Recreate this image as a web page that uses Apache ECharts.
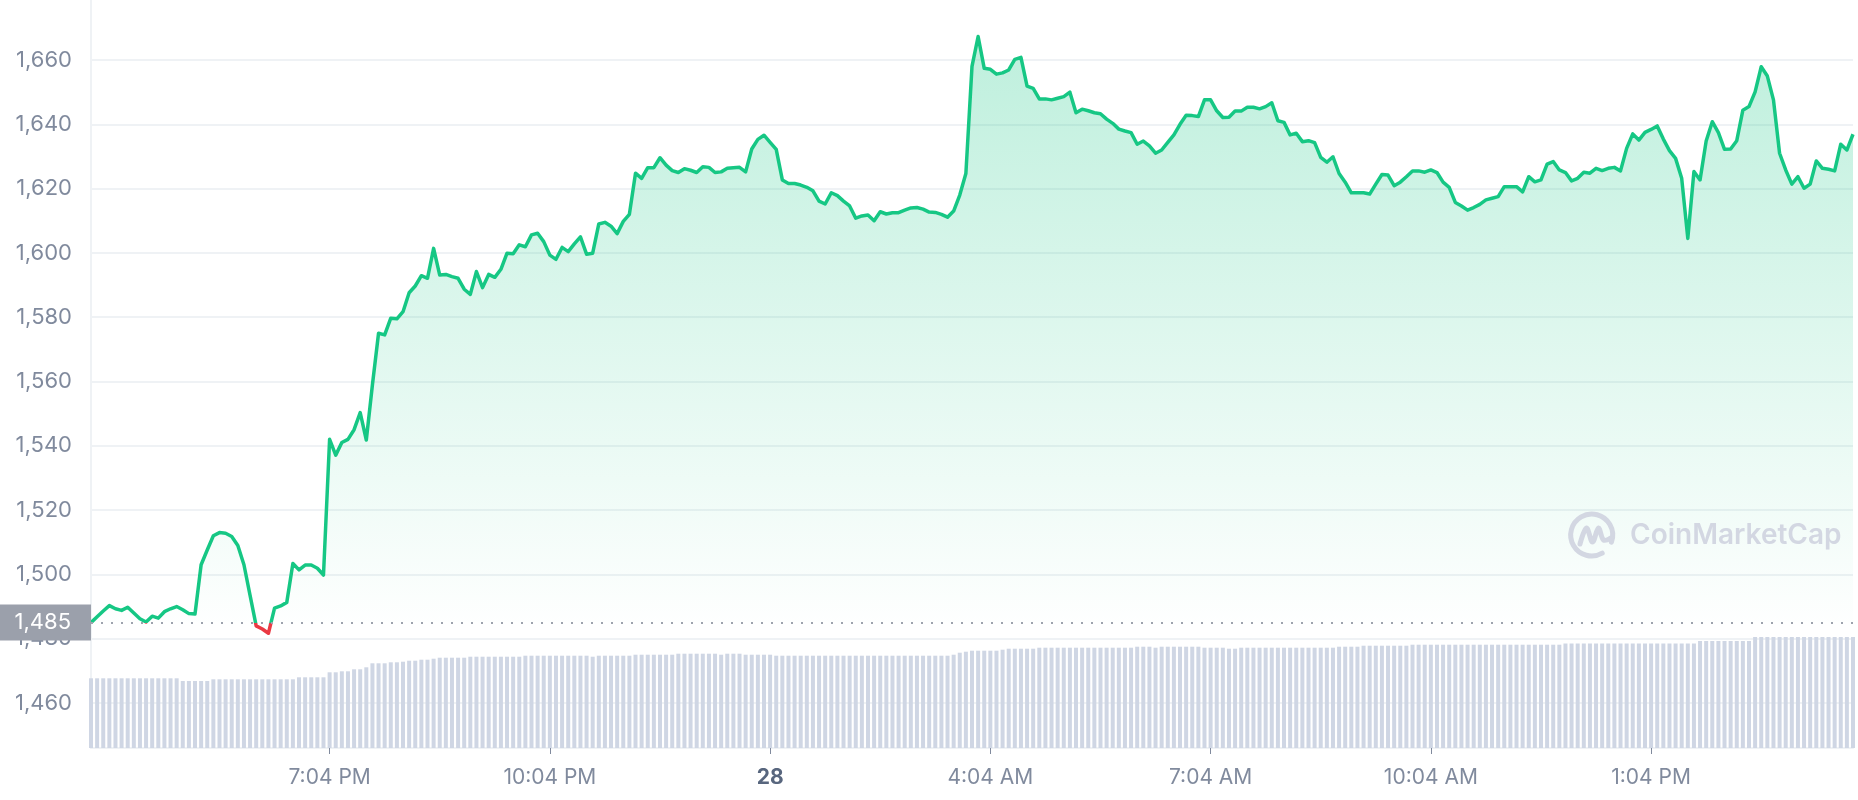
<!DOCTYPE html>
<html>
<head>
<meta charset="utf-8">
<script src="https://cdn.jsdelivr.net/npm/echarts@6/dist/echarts.min.js"></script>
<style>
html,body{margin:0;padding:0;background:#ffffff;}
#chart{width:1858px;height:800px;}
</style>
</head>
<body>
<div id="chart"></div>
<script>
// ---------- data ----------
const openPrice = 1485;

// 5-minute categories from 27 15:49 to 28 15:49
const categories = [];
(function () {
  let m = 15 * 60 + 49;
  for (let i = 0; i < 289; i++) {
    const d = m >= 1440 ? 28 : 27;
    const t = m % 1440;
    categories.push(d + ' ' + String(Math.floor(t / 60)).padStart(2, '0') + ':' + String(t % 60).padStart(2, '0'));
    m += 5;
  }
})();

const tickLabels = {
  '27 19:04': '7:04 PM',
  '27 22:04': '10:04 PM',
  '28 01:04': '28',
  '28 04:04': '4:04 AM',
  '28 07:04': '7:04 AM',
  '28 10:04': '10:04 AM',
  '28 13:04': '1:04 PM'
};
const boldTick = '28 01:04';

const yTicks = [1460, 1480, 1500, 1520, 1540, 1560, 1580, 1600, 1620, 1640, 1660];

const prices = [
  1485, 1486.8, 1488.6, 1490.3, 1489.3, 1488.8, 1489.8, 1488, 1486.2, 1485.2,
  1487, 1486.4, 1488.4, 1489.3, 1490, 1489, 1487.8, 1487.7, 1503, 1507.6,
  1512, 1513, 1512.8, 1511.8, 1509, 1503, 1493.5, 1484, 1483, 1481.7,
  1489.5, 1490.2, 1491.3, 1503.4, 1501.4, 1502.9, 1502.9, 1501.9, 1499.8, 1542,
  1537.1, 1541, 1542, 1545, 1550.3, 1541.8, 1559, 1575, 1574.5, 1579.7,
  1579.5, 1581.7, 1587.6, 1589.7, 1592.9, 1592.1, 1601.4, 1593.1, 1593.3, 1592.6,
  1592.1, 1588.7, 1587.1, 1594.2, 1589.2, 1593.3, 1592.4, 1594.9, 1599.9, 1599.7,
  1602.5, 1601.9, 1605.6, 1606.1, 1603.5, 1599.3, 1598, 1601.7, 1600.4, 1602.8,
  1605, 1599.6, 1599.9, 1609, 1609.5, 1608.3, 1606, 1609.8, 1612, 1624.8,
  1623.2, 1626.5, 1626.5, 1629.6, 1627.3, 1625.6, 1625, 1626.2, 1625.7, 1625,
  1626.8, 1626.6, 1625, 1625.2, 1626.3, 1626.5, 1626.6, 1625.2, 1632.3, 1635.3,
  1636.6, 1634.4, 1632.2, 1622.7, 1621.6, 1621.6, 1621.1, 1620.4, 1619.3, 1616.1,
  1615.2, 1618.7, 1617.8, 1616.1, 1614.6, 1610.8, 1611.5, 1611.8, 1610, 1612.8,
  1612.1, 1612.5, 1612.5, 1613.3, 1614, 1614.1, 1613.6, 1612.7, 1612.6, 1612,
  1611.1, 1613, 1618, 1624.7, 1658, 1667.3, 1657.4, 1657.1, 1655.6, 1656,
  1656.9, 1660.2, 1660.8, 1651.9, 1651.2, 1647.9, 1647.9, 1647.6, 1648.1, 1648.6,
  1650, 1643.6, 1644.7, 1644.2, 1643.6, 1643.3, 1641.6, 1640.3, 1638.5, 1637.9,
  1637.4, 1633.8, 1634.8, 1633.3, 1631, 1632, 1634.4, 1636.7, 1640, 1642.8,
  1642.7, 1642.4, 1647.6, 1647.6, 1644.2, 1642.1, 1642.2, 1644.1, 1644.1, 1645.3,
  1645.3, 1644.8, 1645.5, 1646.7, 1641.1, 1640.6, 1636.7, 1637.2, 1634.6, 1634.9,
  1634.3, 1629.7, 1628.2, 1629.9, 1624.7, 1622, 1618.7, 1618.7, 1618.7, 1618.3,
  1621.4, 1624.4, 1624.2, 1620.9, 1622, 1623.7, 1625.5, 1625.5, 1625.1, 1625.8,
  1625, 1622, 1620.4, 1615.7, 1614.6, 1613.3, 1614.1, 1615.1, 1616.5, 1617,
  1617.5, 1620.6, 1620.6, 1620.6, 1619, 1623.7, 1622.1, 1622.7, 1627.6, 1628.4,
  1625.8, 1625, 1622.4, 1623.2, 1625.1, 1624.8, 1626.3, 1625.6, 1626.3, 1626.6,
  1625.5, 1632.5, 1637, 1635.1, 1637.5, 1638.4, 1639.5, 1635.4, 1631.8, 1629.4,
  1623.2, 1604.5, 1625.3, 1622.7, 1634.8, 1640.8, 1637.4, 1632.2, 1632.3, 1634.9,
  1644.4, 1645.5, 1650.1, 1657.9, 1655, 1647.6, 1631, 1625.8, 1621.4, 1623.7,
  1620.1, 1621.4, 1628.6, 1626.3, 1626, 1625.5, 1633.8, 1632, 1636.9
];

const volumes = [
  6.97, 6.97, 6.97, 6.97, 6.97, 6.97, 6.97, 6.97, 6.97, 6.97,
  6.97, 6.97, 6.97, 6.97, 6.97, 6.70, 6.70, 6.70, 6.70, 6.70,
  6.87, 6.87, 6.87, 6.87, 6.87, 6.87, 6.87, 6.87, 6.87, 6.87,
  6.87, 6.87, 6.87, 6.87, 7.07, 7.07, 7.07, 7.07, 7.07, 7.57,
  7.57, 7.67, 7.67, 7.87, 7.87, 8.07, 8.47, 8.47, 8.47, 8.57,
  8.57, 8.63, 8.73, 8.73, 8.83, 8.83, 8.93, 9.03, 9.03, 9.03,
  9.03, 9.03, 9.13, 9.13, 9.13, 9.13, 9.13, 9.13, 9.13, 9.13,
  9.13, 9.23, 9.23, 9.23, 9.23, 9.23, 9.23, 9.23, 9.23, 9.23,
  9.23, 9.23, 9.13, 9.23, 9.23, 9.23, 9.23, 9.23, 9.23, 9.33,
  9.33, 9.33, 9.33, 9.33, 9.33, 9.33, 9.43, 9.43, 9.43, 9.43,
  9.43, 9.43, 9.43, 9.33, 9.43, 9.43, 9.43, 9.33, 9.33, 9.33,
  9.33, 9.33, 9.23, 9.23, 9.23, 9.23, 9.23, 9.23, 9.23, 9.23,
  9.23, 9.23, 9.23, 9.23, 9.23, 9.23, 9.23, 9.23, 9.23, 9.23,
  9.23, 9.23, 9.23, 9.23, 9.23, 9.23, 9.23, 9.23, 9.23, 9.23,
  9.23, 9.33, 9.53, 9.63, 9.73, 9.73, 9.73, 9.73, 9.73, 9.83,
  9.93, 9.93, 9.93, 9.93, 9.93, 10.03, 10.03, 10.03, 10.03, 10.03,
  10.03, 10.03, 10.03, 10.03, 10.03, 10.03, 10.03, 10.03, 10.03, 10.03,
  10.03, 10.13, 10.13, 10.13, 10.03, 10.13, 10.13, 10.13, 10.13, 10.13,
  10.13, 10.13, 10.03, 10.03, 10.03, 10.03, 9.93, 9.93, 10.03, 10.03,
  10.03, 10.03, 10.03, 10.03, 10.03, 10.03, 10.03, 10.03, 10.03, 10.03,
  10.03, 10.03, 10.03, 10.03, 10.13, 10.13, 10.13, 10.13, 10.23, 10.23,
  10.23, 10.23, 10.23, 10.23, 10.23, 10.23, 10.33, 10.33, 10.33, 10.33,
  10.33, 10.33, 10.33, 10.33, 10.33, 10.33, 10.33, 10.33, 10.33, 10.33,
  10.33, 10.33, 10.33, 10.33, 10.33, 10.33, 10.33, 10.33, 10.33, 10.33,
  10.33, 10.45, 10.45, 10.45, 10.45, 10.45, 10.45, 10.45, 10.45, 10.45,
  10.45, 10.45, 10.45, 10.45, 10.45, 10.45, 10.45, 10.45, 10.45, 10.45,
  10.45, 10.45, 10.45, 10.7, 10.7, 10.7, 10.7, 10.7, 10.7, 10.7,
  10.7, 10.7, 11.1, 11.1, 11.1, 11.1, 11.1, 11.1, 11.1, 11.1,
  11.1, 11.1, 11.1, 11.1, 11.1, 11.1, 11.1, 11.1, 11.1
];

// ---------- chart ----------
const FONT = 'Inter, "Noto Sans", sans-serif';
const axisGrey = '#808a9d';
const UP = '#16c784', DOWN = '#ea3943';
const chart = echarts.init(document.getElementById('chart'), null, { renderer: 'canvas' });

const option = {
  animation: false,
  backgroundColor: '#ffffff',
  grid: { left: 91, right: 5, top: 0, bottom: 52, containLabel: false },
  xAxis: {
    type: 'category',
    data: categories,
    boundaryGap: false,
    axisLine: { show: true, onZero: false, lineStyle: { color: '#eff2f5', width: 2 } },
    axisTick: {
      show: true, length: 6,
      interval: function (i, v) { return tickLabels.hasOwnProperty(v); },
      lineStyle: { color: axisGrey, width: 1 }
    },
    axisLabel: {
      interval: function (i, v) { return tickLabels.hasOwnProperty(v); },
      formatter: function (v) { return v === boldTick ? '{b|' + tickLabels[v] + '}' : tickLabels[v]; },
      color: axisGrey, fontSize: 21, fontFamily: FONT, margin: 19,
      rich: { b: { fontWeight: 700, color: '#58667e', fontSize: 21, fontFamily: FONT } }
    },
    splitLine: { show: false }
  },
  yAxis: [
    {
      type: 'value', min: 1446, max: 1678.66, position: 'left',
      axisLine: { show: true, lineStyle: { color: '#eff2f5', width: 2 } },
      axisTick: { show: false, customValues: yTicks },
      axisLabel: {
        customValues: yTicks,
        formatter: function (v) { return Number(v).toLocaleString('en-US'); },
        color: axisGrey, fontSize: 22, fontFamily: FONT, margin: 19
      },
      splitLine: { show: true, lineStyle: { color: '#eff2f5', width: 2 } }
    },
    {
      type: 'value', min: 0, max: 74.8, show: false,
      axisLine: { show: false }, axisLabel: { show: false }, splitLine: { show: false }
    }
  ],
  series: [
    {
      type: 'line',
      name: 'Price',
      data: prices,
      yAxisIndex: 0,
      showSymbol: false,
      symbol: 'none',
      smooth: false,
      z: 3,
      lineStyle: { width: 3.5, color: UP, join: 'round' },
      itemStyle: { color: UP },
      emphasis: { disabled: true },
      areaStyle: {
        origin: openPrice,
        color: new echarts.graphic.LinearGradient(0, 0, 0, 1, [
          { offset: 0, color: 'rgba(22,199,132,0.4)' },
          { offset: 1, color: 'rgba(22,199,132,0)' }
        ])
      },
      markLine: {
        silent: true,
        symbol: 'none',
        animation: false,
        lineStyle: { type: [2, 8], color: '#9ea3ae', width: 2 },
        label: {
          show: true, position: 'start', distance: 0,
          formatter: '1,485',
          color: '#ffffff', backgroundColor: '#9ba0ab',
          fontSize: 22, fontFamily: FONT,
          width: 71, height: 36, lineHeight: 36,
          padding: [0, 20, 0, 0], align: 'right', verticalAlign: 'middle'
        },
        data: [{ yAxis: openPrice }]
      }
    },
    {
      type: 'bar',
      name: 'Volume',
      data: volumes,
      yAxisIndex: 1,
      barWidth: 4,
      silent: true,
      z: 1,
      itemStyle: { color: '#cfd6e4' }
    }
  ],
  graphic: [
    {
      type: 'arc', z: 10, silent: true,
      shape: { cx: 1591.7, cy: 535, r: 21, startAngle: 60 * Math.PI / 180, endAngle: 380 * Math.PI / 180, clockwise: true },
      style: { stroke: '#d3d7e2', lineWidth: 5, fill: null, lineCap: 'round' }
    },
    {
      type: 'polyline', z: 10, silent: true,
      shape: {
        points: [[1580, 544], [1586.5, 528], [1592.5, 542], [1598.5, 528], [1603.5, 540], [1611, 538]],
        smooth: 0.35
      },
      style: { stroke: '#d3d7e2', lineWidth: 5, fill: null, lineCap: 'round', lineJoin: 'round' }
    },
    {
      type: 'text', z: 10, silent: true,
      left: 1630, top: 522,
      style: { text: 'CoinMarketCap', fill: '#d3d7e2', font: '600 28px ' + FONT }
    }
  ]
};

chart.setOption(option);

// colour the part of the line below the opening price red (split at the opening-price pixel)
const yOpen = chart.convertToPixel({ yAxisIndex: 0 }, openPrice);
const H = chart.getHeight();
const off = Math.min(Math.max(yOpen / H, 0), 1);
chart.setOption({
  series: [{
    lineStyle: {
      color: new echarts.graphic.LinearGradient(0, 0, 0, H, [
        { offset: 0, color: UP },
        { offset: off, color: UP },
        { offset: off, color: DOWN },
        { offset: 1, color: DOWN }
      ], true)
    }
  }]
});
</script>
</body>
</html>
